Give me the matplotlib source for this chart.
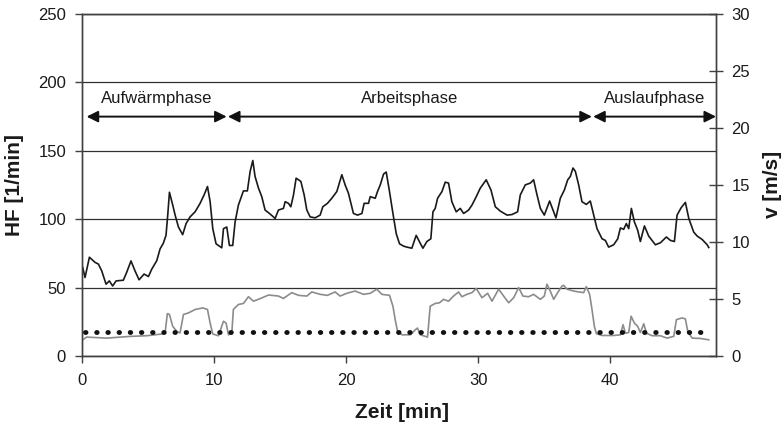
import numpy as np
import matplotlib.pyplot as plt

plt.rcParams['font.family'] = ['Liberation Sans', 'DejaVu Sans']

# heart rate [1/min] over time [min]
hf_t = [0.05, 0.23, 0.56, 0.98, 1.24, 1.49, 1.82, 2.07, 2.32, 2.58, 3.13, 3.38, 3.71, 4.01,
        4.32, 4.70, 5.03, 5.28, 5.66, 5.91, 6.16, 6.36, 6.49, 6.62, 6.87, 7.05, 7.30, 7.62,
        7.88, 8.18, 8.56, 8.94, 9.24, 9.50, 9.70, 9.90, 10.15, 10.58, 10.71, 10.96, 11.16,
        11.41, 11.59, 11.84, 12.22, 12.52, 12.73, 12.93, 13.10, 13.36, 13.61, 13.86, 14.19,
        14.49, 14.62, 14.87, 15.25, 15.38, 15.63, 15.81, 16.01, 16.21, 16.57, 16.82, 17.02,
        17.27, 17.65, 18.03, 18.23, 18.58, 18.91, 19.29, 19.67, 19.92, 20.17, 20.55, 20.86,
        21.19, 21.36, 21.69, 21.82, 22.20, 22.37, 22.58, 22.83, 23.03, 23.28, 23.54, 23.79,
        24.04, 24.35, 24.60, 24.97, 25.30, 25.56, 25.81, 26.11, 26.41, 26.57, 26.74, 26.92,
        27.25, 27.50, 27.75, 28.00, 28.33, 28.64, 28.89, 29.27, 29.52, 29.85, 30.15, 30.60,
        30.96, 31.29, 31.67, 32.18, 32.55, 32.98, 33.18, 33.56, 33.94, 34.19, 34.45, 34.70,
        35.00, 35.40, 35.66, 35.88, 36.21, 36.52, 36.77, 36.97, 37.17, 37.35, 37.60, 37.85,
        38.18, 38.48, 38.74, 38.99, 39.37, 39.62, 39.87, 40.25, 40.56, 40.76, 41.01, 41.21,
        41.39, 41.59, 41.82, 42.07, 42.27, 42.58, 42.90, 43.41, 43.79, 44.24, 44.55, 44.85,
        45.05, 45.36, 45.68, 45.94, 46.31, 46.57, 46.95, 47.33, 47.45]
hf = [64.8, 57.4, 72.2, 68.5, 67.2, 62.3, 52.5, 54.9, 51.2, 54.9, 55.4, 61.1, 69.5, 62.3,
      55.7, 59.9, 58.1, 63.5, 69.7, 78.3, 82.5, 88.2, 103, 119.7, 110.3, 103, 94.3, 88.7,
      96.8, 101.7, 105.4, 111.6, 117.7, 123.9, 112.8, 93.1, 82.0, 79.1, 93.1, 94.3, 80.8,
      80.8, 98.0, 110.3, 120.7, 120.7, 135, 142.9, 131.3, 122.7, 116.5, 106.7, 104.2,
      101.7, 100.5, 106.7, 107.9, 112.8, 111.6, 109.1, 117.7, 130.0, 127.6, 117.7, 106.7,
      101.7, 101, 103, 109.1, 111.6, 115.3, 120.2, 132.5, 125.1, 119, 104.2, 103,
      104.2, 111.6, 111.6, 116.5, 115.3, 120.2, 125.1, 133, 134.5, 120.2, 104.2, 89.4,
      82, 80.3, 79.6, 78.8, 88.2, 83.3, 78.8, 83.7, 85.7, 105.4, 107.9, 115.3,
      120.2, 127.1, 126.4, 112.8, 105.4, 107.9, 104.2, 106.7, 110.3, 116.5, 122.7, 128.8,
      121.4, 109.1, 105.9, 103, 103.4, 105.4, 117.7, 125.1, 126.4, 128.8, 117.7, 107.9,
      103, 113.3, 106.7, 101, 115.3, 121.4, 128.8, 131.3, 137.4, 135, 125.1, 112.8,
      110.8, 113.3, 103, 93.1, 85.7, 84.5, 79.6, 81.3, 85.7, 93.6, 92.6, 96.8,
      93.1, 107.9, 98, 91.9, 83.7, 95.1, 87.7, 81.3, 82.8, 87, 84.5, 83.7,
      103, 108.4, 112.3, 100.5, 90.6, 87.7, 85.2, 81.3, 79.3]

# speed [m/s] over time [min]
v_t = [0.05, 0.35, 1.87, 3.64, 4.9, 6.04, 6.29, 6.46, 6.62, 6.87, 7.17, 7.42, 7.68, 8.06,
       8.56, 9.14, 9.50, 9.70, 9.90, 10.33, 10.71, 10.91, 11.09, 11.34, 11.46, 11.84, 12.22,
       12.60, 12.98, 13.48, 14.12, 14.87, 15.25, 15.88, 16.39, 17.02, 17.40, 18.03, 18.58,
       19.16, 19.54, 20.04, 20.68, 21.31, 21.82, 22.32, 22.70, 23.28, 23.54, 23.71, 23.89,
       24.22, 24.85, 25.23, 25.40, 25.61, 26.16, 26.36, 26.74, 27.07, 27.37, 27.75, 28.13,
       28.51, 28.76, 29.14, 29.52, 29.85, 30.28, 30.71, 31.04, 31.54, 31.92, 32.30, 32.68,
       33.06, 33.38, 33.81, 34.19, 34.70, 35.00, 35.20, 35.45, 35.71, 36.01, 36.34, 36.46,
       36.72, 37.22, 37.60, 37.98, 38.18, 38.43, 38.61, 38.79, 38.94, 39.37, 40.25, 40.76,
       40.96, 41.14, 41.39, 41.57, 41.82, 42.07, 42.27, 42.53, 42.73, 43.16, 43.79, 44.29,
       44.80, 45.00, 45.43, 45.68, 45.86, 46.19, 46.82, 47.45]
v = [1.42, 1.66, 1.57, 1.72, 1.78, 1.93, 2.02, 3.72, 3.64, 2.60, 2.16, 2.02, 3.64, 3.78,
     4.08, 4.22, 4.08, 2.89, 1.93, 1.78, 3.05, 2.89, 1.86, 2.00, 4.08, 4.52, 4.61,
     5.20, 4.81, 5.03, 5.35, 5.26, 5.05, 5.56, 5.32, 5.26, 5.62, 5.41, 5.32,
     5.62, 5.26, 5.50, 5.70, 5.41, 5.50, 5.86, 5.41, 5.32, 4.37, 3.19, 2.16,
     1.86, 1.86, 2.30, 2.45, 1.86, 1.66, 4.37, 4.61, 4.67, 4.97, 4.81, 5.26,
     5.62, 5.20, 5.41, 5.56, 5.92, 5.11, 5.50, 4.81, 5.86, 5.26, 4.67, 5.11,
     6.00, 5.26, 5.20, 5.41, 4.97, 5.26, 6.30, 5.70, 4.97, 5.56, 6.14, 6.20,
     5.86, 5.70, 5.62, 5.56, 6.08, 5.41, 4.08, 2.60, 1.96, 1.80, 1.80, 1.86,
     2.75, 2.00, 2.06, 3.49, 2.89, 2.60, 2.06, 2.83, 2.00, 1.78, 1.78, 1.57,
     1.72, 3.19, 3.34, 3.25, 2.16, 1.57, 1.54, 1.42]

# reference speed (dotted)
ref_t = [0.23, 47.45]
ref_v = [2.1, 2.1]

phase_names = ['Aufwärmphase', 'Arbeitsphase', 'Auslaufphase']
phase_start = [0.35, 11.05, 38.7]
phase_end = [10.95, 38.6, 48.0]
arrow_hf = 175
label_hf = 188

fig = plt.figure(figsize=(7.84, 4.26), dpi=100)
ax = fig.add_axes([0.1046, 0.1643, 0.8087, 0.8028])
ax2 = ax.twinx()

ax.set_xlim(0, 48)
ax.set_ylim(0, 250)
ax2.set_ylim(0, 30)
ax.set_xticks(np.arange(0, 41, 10))
ax.set_yticks(np.arange(0, 251, 50))
ax2.set_yticks(np.arange(0, 31, 5))

ax.yaxis.grid(True, color='#303030', lw=0.9)
ax.set_axisbelow(True)

for a in (ax, ax2):
    for s in a.spines.values():
        s.set_color('#404040')
        s.set_linewidth(1.0)
ax.tick_params(axis='y', direction='out', length=5, width=1, color='#404040',
               labelsize=12, labelcolor='#1a1a1a', pad=6.5)
ax.tick_params(axis='x', direction='out', length=5, width=1, color='#404040',
               labelsize=12, labelcolor='#1a1a1a', pad=7)
ax2.tick_params(axis='y', direction='inout', length=10, width=1, color='#404040',
                labelsize=12, labelcolor='#1a1a1a', pad=6)

ax.plot(hf_t, hf, color='#1a1a1a', lw=1.2, zorder=3)
ax2.plot(v_t, v, color='#8c8c8c', lw=1.2, zorder=2)
ax2.plot(ref_t, ref_v, color='#111111', lw=3.5, linestyle=(0, (0.1, 2.2)),
         dash_capstyle='round', zorder=3)

for name, s, e in zip(phase_names, phase_start, phase_end):
    ax.annotate('', xy=(e, arrow_hf), xytext=(s, arrow_hf),
                arrowprops=dict(arrowstyle='<|-|>', color='#111111', lw=1.4,
                                mutation_scale=17, shrinkA=0, shrinkB=0))
    ax.text((s + e) / 2, label_hf, name, ha='center', va='center',
            fontsize=12, color='#1a1a1a')

fig.text(15 / 784, 1 - 185 / 426, 'HF [1/min]', rotation=90, ha='center', va='center',
         fontsize=15, fontweight='bold', color='#1a1a1a')
fig.text(772 / 784, 1 - 184 / 426, 'v [m/s]', rotation=90, ha='center', va='center',
         fontsize=15, fontweight='bold', color='#1a1a1a')
fig.text(402 / 784, 1 - 413 / 426, 'Zeit [min]', ha='center', va='center',
         fontsize=15, fontweight='bold', color='#1a1a1a')

fig.savefig('out.png', dpi=100)
